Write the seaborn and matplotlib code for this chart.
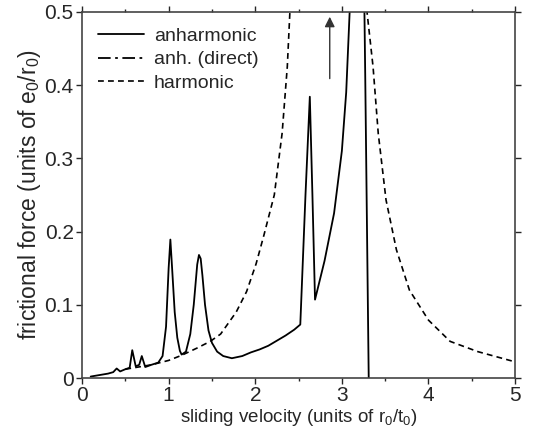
import numpy as np
import pandas as pd
import seaborn as sns
import matplotlib.pyplot as plt
from matplotlib.ticker import MultipleLocator

sns.set_style('ticks')
plt.rcParams['font.family'] = ['Liberation Sans', 'DejaVu Sans']
plt.rcParams['mathtext.default'] = 'regular'

# anharmonic (solid) curve
anh_v = [0.10, 0.20, 0.30, 0.36, 0.40, 0.44, 0.50, 0.55, 0.58, 0.62, 0.66, 0.69, 0.73,
         0.80, 0.88, 0.93, 0.97, 1.00, 1.02, 1.04, 1.07, 1.10, 1.13, 1.15, 1.20, 1.25,
         1.29, 1.33, 1.35, 1.37, 1.39, 1.42, 1.46, 1.50, 1.56, 1.63, 1.73, 1.85, 1.95,
         2.05, 2.15, 2.25, 2.35, 2.45, 2.52, 2.58, 2.63, 2.66, 2.69, 2.80, 2.91, 3.00,
         3.05, 3.09, 3.12, 3.25, 3.27, 3.31]
anh_f = [0.002, 0.004, 0.006, 0.008, 0.013, 0.009, 0.012, 0.014, 0.038, 0.016, 0.018, 0.030, 0.015,
         0.018, 0.021, 0.030, 0.070, 0.150, 0.189, 0.150, 0.090, 0.055, 0.037, 0.032, 0.036, 0.060,
         0.100, 0.155, 0.168, 0.163, 0.140, 0.100, 0.065, 0.048, 0.036, 0.030, 0.027, 0.030, 0.035,
         0.039, 0.044, 0.051, 0.058, 0.066, 0.073, 0.250, 0.384, 0.250, 0.107, 0.160, 0.225, 0.310,
         0.390, 0.500, 0.600, 0.600, 0.410, 0.000]

# harmonic (dashed) curve
har_v = [0.50, 0.80, 1.00, 1.15, 1.33, 1.48, 1.60, 1.78, 1.90, 2.01, 2.10, 2.22, 2.31, 2.37,
         2.40, 2.43, 3.27, 3.29, 3.36, 3.42, 3.51, 3.63, 3.78, 4.00, 4.25, 4.57, 4.94, 5.00]
har_f = [0.012, 0.018, 0.024, 0.031, 0.041, 0.050, 0.060, 0.090, 0.118, 0.156, 0.195, 0.250, 0.334, 0.425,
         0.500, 0.600, 0.600, 0.500, 0.425, 0.334, 0.243, 0.175, 0.120, 0.079, 0.050, 0.036, 0.024, 0.022]

# anh. (direct) has no visible points inside the window
dir_v = []
dir_f = []

arrow_v = 2.86
arrow_f = [0.405, 0.497]

df_anh = pd.DataFrame({'v': anh_v, 'f': anh_f})
df_har = pd.DataFrame({'v': har_v, 'f': har_f})

fig = plt.figure(figsize=(5.34, 4.36), dpi=100)
ax = fig.add_axes([0.1536, 0.133, 0.811, 0.84])

sns.lineplot(x='v', y='f', data=df_anh, ax=ax, sort=False, estimator=None,
             color='black', lw=1.3, label='anharmonic')
ax.plot(dir_v, dir_f, color='black', lw=1.3, ls=(0, (7, 2.5, 1.5, 2.5)), label='anh. (direct)')
sns.lineplot(x='v', y='f', data=df_har, ax=ax, sort=False, estimator=None,
             color='black', lw=1.2, ls=(0, (3.5, 2.5)), label='harmonic')

ax.annotate('', xy=(arrow_v, arrow_f[1]), xytext=(arrow_v, arrow_f[0]),
            arrowprops=dict(arrowstyle='-|>', color='#333333', lw=1.0, mutation_scale=15))

ax.set_xlim(0, 5)
ax.set_ylim(0, 0.5)
ax.xaxis.set_major_locator(MultipleLocator(1))
ax.xaxis.set_minor_locator(MultipleLocator(0.5))
ax.set_yticks([0, 0.1, 0.2, 0.3, 0.4, 0.5])
ax.set_yticklabels(['0', '0.1', '0.2', '0.3', '0.4', '0.5'])
ax.tick_params(which='major', direction='out', length=4, width=1, top=True, right=True,
               labelsize=15, pad=2)
ax.tick_params(which='minor', direction='out', length=2, width=1, top=True, right=False)
for s in ax.spines.values():
    s.set_linewidth(1.2)
    s.set_color('#444444')

ax.set_xlabel('sliding velocity (units of r$_0$/t$_0$)', fontsize=13.5,
              family=['Liberation Sans Narrow', 'Liberation Sans'], labelpad=1)
ax.set_ylabel('frictional force (units of e$_0$/r$_0$)', fontsize=16.5, labelpad=1)

ax.legend(loc='upper left', frameon=False, fontsize=14, handlelength=2.4,
          handletextpad=0.5, labelspacing=0.3, borderaxespad=0.4)

plt.savefig('out.png', dpi=100)
